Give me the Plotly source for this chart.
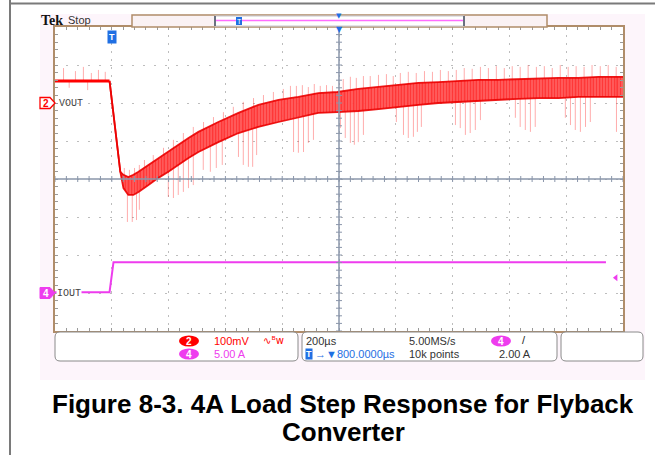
import numpy as np
import plotly.graph_objects as go

# ---------------- acquisition settings ----------------
T_DIV_US = 200            # horizontal scale
TRIG_POS_US = 800         # trigger sits 800 us left of screen centre
CH2_MV_DIV = 100          # VOUT scale
CH4_A_DIV = 5             # IOUT scale
CH2_POS_DIV = 2           # ch2 reference marker, divisions above centre
CH4_POS_DIV = -3          # ch4 reference marker, divisions below centre
TRIG_LEVEL_A = 2.0
VOUT_LEVEL_MV = 58        # pre-step VOUT level above the ch2 reference

# ---------------- VOUT (deviation from pre-step level, mV) ----------------
vout_pre_t = [-200, -8]
vout_pre_mv = [0, 0]

# envelope of the switching ripple band
vout_env_t = [-8, 30, 41, 58, 76, 94, 129, 164, 199, 234, 270, 305, 340, 375, 446, 516,
              587, 657, 727, 794, 868, 939, 1009, 1080, 1150, 1220, 1291, 1361, 1432,
              1502, 1573, 1643, 1714, 1800]
vout_env_hi = [0, -239, -247, -253, -247, -239, -221, -203, -187, -168, -150, -134, -121,
               -108, -84, -63, -50, -42, -32, -29, -21, -16, -11, -5, -3, 0, 3, 3, 5, 5,
               8, 8, 11, 11]
vout_env_lo = [0, -239, -282, -300, -300, -292, -274, -255, -239, -221, -203, -187, -174,
               -161, -137, -121, -108, -95, -84, -82, -79, -74, -68, -63, -58, -55, -53,
               -50, -47, -45, -45, -42, -42, -42]

# switching spikes: time and tip value
spike_up_t = [-170, -128, -100, -72, -47, -23, 44, 62, 80, 97, 115, 146, 182, 217, 252,
              287, 323, 358, 393, 428, 463, 499, 534, 569, 604, 629, 650, 671, 692, 713,
              734, 756, 777, 815, 840, 861, 886, 910, 939, 967, 991, 1016, 1044, 1072,
              1101, 1129, 1157, 1185, 1213, 1241, 1269, 1298, 1326, 1354, 1382, 1410,
              1438, 1466, 1495, 1523, 1551, 1579, 1607, 1635, 1663, 1691, 1720, 1748, 1776]
spike_up_mv = [34, 26, 37, 21, 29, 24, -229, -234, -229, -221, -208, -195, -176, -155,
               -137, -121, -108, -95, -82, -68, -55, -45, -37, -29, -21, -13, -13, -11,
               -16, -8, -13, -11, -13, 5, 11, 8, 13, 13, 16, 18, 13, 21, 24, 21, 26, 24,
               29, 26, 29, 34, 32, 37, 34, 39, 34, 39, 37, 42, 37, 39, 34, 42, 37, 39, 37,
               42, 39, 42, 37]
spike_dn_t = [-150, -85, 55, 72, 87, 97, 199, 217, 234, 252, 270, 287, 322, 347, 368, 389,
              446, 463, 481, 496, 510, 640, 657, 675, 692, 710, 805, 822, 840, 854, 868,
              886, 1002, 1027, 1044, 1062, 1076, 1090, 1210, 1227, 1245, 1262, 1280, 1298,
              1421, 1438, 1456, 1474, 1491, 1597, 1615, 1632, 1650, 1668, 1685, 1777]
spike_dn_mv = [-18, -24, -371, -371, -366, -339, -305, -308, -300, -292, -282, -274, -234,
               -239, -229, -221, -200, -221, -226, -226, -195, -187, -189, -187, -163,
               -155, -124, -150, -163, -168, -161, -142, -108, -142, -150, -147, -134,
               -121, -116, -124, -142, -137, -129, -103, -97, -121, -129, -134, -121, -97,
               -116, -129, -134, -121, -108, -134]

# ---------------- IOUT (A) ----------------
iout_t = [-200, -8, 6, 1740]
iout_a = [0.1, 0.1, 4.05, 4.05]

# ---------------- screen geometry ----------------
FIG_W, FIG_H = 655, 455
GL, GR, GT, GB = 55, 623, 27, 331        # graticule edges in pixels
t_lo = TRIG_POS_US - 5 * T_DIV_US
t_hi = TRIG_POS_US + 5 * T_DIV_US
y_ctr = -CH2_POS_DIV * CH2_MV_DIV
y_lo, y_hi = y_ctr - 4 * CH2_MV_DIV, y_ctr + 4 * CH2_MV_DIV
y2_ctr = -CH4_POS_DIV * CH4_A_DIV
y2_lo, y2_hi = y2_ctr - 4 * CH4_A_DIV, y2_ctr + 4 * CH4_A_DIV


def px(x):
    return (x - GL) / (GR - GL)


def py(y):
    return (GB - y) / (GB - GT)


def ypix(v, lo, hi):
    return GB - (v - lo) / (hi - lo) * (GB - GT)


RED = "#ff0000"
MAG = "#ee3cee"
BLUE = "#1f6fe3"
TAN = "#b08d6a"
PINK_BG = "#fdf5fb"

fig = go.Figure()

# ripple band
env_hi = VOUT_LEVEL_MV + np.array(vout_env_hi)
env_lo = VOUT_LEVEL_MV + np.array(vout_env_lo)
fig.add_trace(go.Scatter(
    x=vout_env_t + vout_env_t[::-1],
    y=list(env_hi) + list(env_lo[::-1]),
    mode="lines", fill="toself", line=dict(width=0, color=RED),
    fillcolor="rgba(255,105,105,0.95)",
    fillpattern=dict(shape="|", fgcolor="#ff0000", size=3, solidity=0.6),
    hoverinfo="skip"))


# spikes: downward ones hang from the band top, upward ones rise from the band bottom
def spike_xy(ts, tips, base_env):
    base = np.interp(ts, vout_env_t, base_env)
    xs, ys = [], []
    for t, b, tip in zip(ts, base, tips):
        xs += [t, t, None]
        ys += [b, VOUT_LEVEL_MV + tip, None]
    return xs, ys


for ts, tips, base in ((spike_dn_t, spike_dn_mv, env_hi), (spike_up_t, spike_up_mv, env_lo)):
    sx, sy = spike_xy(ts, tips, base)
    fig.add_trace(go.Scatter(x=sx, y=sy, mode="lines",
                             line=dict(color="rgba(255,60,60,0.42)", width=1),
                             hoverinfo="skip"))

# band edges and pre-step trace
for env in (env_hi, env_lo):
    fig.add_trace(go.Scatter(x=vout_env_t, y=env, mode="lines",
                             line=dict(color="rgba(235,0,0,0.9)", width=1.8),
                             hoverinfo="skip"))
fig.add_trace(go.Scatter(x=vout_pre_t, y=[VOUT_LEVEL_MV + v for v in vout_pre_mv],
                         mode="lines", line=dict(color=RED, width=3), hoverinfo="skip"))

# IOUT
fig.add_trace(go.Scatter(x=iout_t, y=iout_a, yaxis="y2", mode="lines",
                         line=dict(color=MAG, width=2), hoverinfo="skip"))
# trigger level marker
fig.add_trace(go.Scatter(x=[t_hi - 25], y=[TRIG_LEVEL_A], yaxis="y2", mode="markers",
                         marker=dict(symbol="triangle-left", size=6, color=MAG),
                         hoverinfo="skip"))

# ---------------- decorations ----------------
shapes = []
# scope screen background and graticule area
shapes.append(dict(type="rect", xref="paper", yref="paper", x0=px(40), x1=px(645),
                   y0=py(380), y1=py(14), fillcolor=PINK_BG, line_width=0, layer="below"))
shapes.append(dict(type="rect", xref="paper", yref="paper", x0=0, x1=1, y0=0, y1=1,
                   fillcolor="white", line_width=0, layer="below"))
# page frame lines
shapes.append(dict(type="line", xref="paper", yref="paper", x0=px(10), x1=px(10),
                   y0=py(0), y1=py(FIG_H), line=dict(color="#7a7a7a", width=2)))
shapes.append(dict(type="line", xref="paper", yref="paper", x0=px(10), x1=px(FIG_W),
                   y0=py(3.5), y1=py(3.5), line=dict(color="#7a7a7a", width=2)))

# centre cross
cl = dict(color="#8a96aa", width=1.5)
shapes.append(dict(type="line", xref="x", yref="paper", x0=TRIG_POS_US, x1=TRIG_POS_US,
                   y0=0, y1=1, line=cl))
shapes.append(dict(type="line", xref="paper", yref="y", x0=0, x1=1, y0=y_ctr, y1=y_ctr,
                   line=cl))
cy = ypix(y_ctr, y_lo, y_hi)
for t in range(t_lo, t_hi + 1, T_DIV_US // 5):
    shapes.append(dict(type="line", xref="x", yref="paper", x0=t, x1=t,
                       y0=py(cy - 3), y1=py(cy + 3), line=dict(color="#8a96aa", width=1)))
for v in range(y_lo, y_hi + 1, CH2_MV_DIV // 5):
    shapes.append(dict(type="line", xref="paper", yref="y", x0=0.5 - 3 / (GR - GL),
                       x1=0.5 + 3 / (GR - GL), y0=v, y1=v,
                       line=dict(color="#8a96aa", width=1)))

# record-length bar at the top
shapes.append(dict(type="rect", xref="paper", yref="paper", x0=px(132), x1=px(547),
                   y0=py(27), y1=py(15), fillcolor="#faf2f4", line=dict(color=TAN, width=1.5)))
shapes.append(dict(type="rect", xref="paper", yref="paper", x0=px(215), x1=px(464),
                   y0=py(26), y1=py(16), fillcolor="white", line=dict(color="#c8c8d0", width=1)))
for xe in (215, 464):
    shapes.append(dict(type="line", xref="paper", yref="paper", x0=px(xe), x1=px(xe),
                       y0=py(26), y1=py(16), line=dict(color="#6a7080", width=2)))
shapes.append(dict(type="line", xref="paper", yref="paper", x0=px(216), x1=px(463),
                   y0=py(20.5), y1=py(20.5), line=dict(color="#ff6cff", width=1.5)))
shapes.append(dict(type="rect", xref="paper", yref="paper", x0=px(236), x1=px(242),
                   y0=py(25), y1=py(17), fillcolor=BLUE, line_width=0))


# channel reference markers
def pent(yc):
    return (f"M {px(40)},{py(yc - 5.5)} L {px(50)},{py(yc - 5.5)} L {px(55)},{py(yc)} "
            f"L {px(50)},{py(yc + 5.5)} L {px(40)},{py(yc + 5.5)} Z")


ch2_y = ypix(0, y_lo, y_hi)
ch4_y = ypix(0, y2_lo, y2_hi)
shapes.append(dict(type="path", xref="paper", yref="paper", path=pent(ch2_y),
                   fillcolor="white", line=dict(color=RED, width=1.3)))
shapes.append(dict(type="path", xref="paper", yref="paper", path=pent(ch4_y),
                   fillcolor=MAG, line=dict(color=MAG, width=1)))


# readout boxes
def rbox(x0, x1, y0, y1, r=5):
    return (f"M {px(x0 + r)},{py(y0)} L {px(x1 - r)},{py(y0)} "
            f"Q {px(x1)},{py(y0)} {px(x1)},{py(y0 + r)} L {px(x1)},{py(y1 - r)} "
            f"Q {px(x1)},{py(y1)} {px(x1 - r)},{py(y1)} L {px(x0 + r)},{py(y1)} "
            f"Q {px(x0)},{py(y1)} {px(x0)},{py(y1 - r)} L {px(x0)},{py(y0 + r)} "
            f"Q {px(x0)},{py(y0)} {px(x0 + r)},{py(y0)} Z")


for bx0, bx1 in ((55, 298), (302, 557), (561, 643)):
    shapes.append(dict(type="path", xref="paper", yref="paper", path=rbox(bx0, bx1, 332, 361),
                       fillcolor="white", line=dict(color="#8a8a8a", width=1)))

# channel ovals in the readout
for cx, cyy, col in ((189, 341, RED), (189, 354, MAG), (501, 341, MAG)):
    shapes.append(dict(type="circle", xref="paper", yref="paper", x0=px(cx - 10),
                       x1=px(cx + 10), y0=py(cyy + 5.5), y1=py(cyy - 5.5),
                       fillcolor=col, line_width=0))

annotations = []


def label(x, y, text, size=11, color="#333333", family="Liberation Sans", anchor="left",
          **kw):
    annotations.append(dict(xref="paper", yref="paper", x=px(x), y=py(y), text=text,
                            showarrow=False, xanchor=anchor, yanchor="middle",
                            font=dict(size=size, color=color, family=family), **kw))


label(39, 20, "<b>Tek</b>", size=14, color="#111111", family="Liberation Serif")
label(66, 20, "Stop", size=11, color="#333333")
label(239, 21, "T", size=7, color="white", anchor="center")
label(339, 16, "▼", size=7, color=BLUE, family="DejaVu Sans", anchor="center")
label(339.5, 30, "▼", size=8, color=BLUE, family="DejaVu Sans", anchor="center")
annotations.append(dict(xref="x", yref="paper", x=0, y=py(37), text="<b>T</b>",
                        showarrow=False, xanchor="center", yanchor="middle",
                        bgcolor=BLUE, borderpad=1,
                        font=dict(size=9, color="white", family="Liberation Sans")))

label(45.5, ch2_y, "<b>2</b>", size=10, color=RED, anchor="center")
label(45.5, ch4_y, "<b>4</b>", size=10, color="white", anchor="center")
label(57, ch2_y, "VOUT", size=10, color="#444444", family="Liberation Mono")
label(56, ch4_y, "IOUT", size=10, color="#444444", family="Liberation Mono",
      bgcolor="white", borderpad=0)

# readout texts
label(189, 341, "<b>2</b>", size=10, color="white", anchor="center")
label(189, 354, "<b>4</b>", size=10, color="white", anchor="center")
label(501, 341, "<b>4</b>", size=10, color="white", anchor="center")
label(212, 341, f"{CH2_MV_DIV}mV", color=RED)
label(261, 340, "∿ᴮw", size=10, color=RED, family="DejaVu Sans")
label(212, 354, f"{CH4_A_DIV:.2f} A", color=MAG)
label(304, 341, f"{T_DIV_US}µs")
annotations.append(dict(xref="paper", yref="paper", x=px(305), y=py(354), text="<b>T</b>",
                        showarrow=False, xanchor="left", yanchor="middle", bgcolor=BLUE,
                        borderpad=0, font=dict(size=9, color="white", family="Liberation Sans")))
label(313, 354, f"→▼{TRIG_POS_US:.4f}µs", color=BLUE)
label(407, 341, "5.00MS/s")
label(407, 354, "10k points")
label(520, 340, "/", size=11, color="#222222")
label(497, 354, f"{TRIG_LEVEL_A:.2f} A")

# figure caption
label(343, 404, "<b>Figure 8-3. 4A Load Step Response for Flyback</b>", size=26,
      color="black", anchor="center")
label(343, 432, "<b>Converter</b>", size=26, color="black", anchor="center")

axis_common = dict(showticklabels=False, zeroline=False, showline=True, linecolor=TAN,
                   linewidth=1.5, mirror="ticks", ticks="inside", ticklen=3,
                   tickcolor="#9a9a9a", gridcolor="#bdbdbd", gridwidth=1, fixedrange=True)

fig.update_layout(
    width=FIG_W, height=FIG_H,
    margin=dict(l=GL, r=FIG_W - GR, t=GT, b=FIG_H - GB),
    paper_bgcolor="white", plot_bgcolor="white", showlegend=False,
    xaxis=dict(range=[t_lo, t_hi], tick0=t_lo, dtick=T_DIV_US, griddash="2px,6px",
               minor=dict(dtick=T_DIV_US / 5, tick0=t_lo, ticks="inside", ticklen=3,
                          tickcolor="#9a9a9a", showgrid=False),
               **axis_common),
    yaxis=dict(range=[y_lo, y_hi], tick0=y_lo, dtick=CH2_MV_DIV, griddash="2px,9px",
               minor=dict(dtick=CH2_MV_DIV / 5, tick0=y_lo, ticks="inside", ticklen=3,
                          tickcolor="#9a9a9a", showgrid=False),
               **axis_common),
    yaxis2=dict(range=[y2_lo, y2_hi], overlaying="y", visible=False, fixedrange=True),
    shapes=shapes, annotations=annotations,
)

fig.write_html("out.html")
